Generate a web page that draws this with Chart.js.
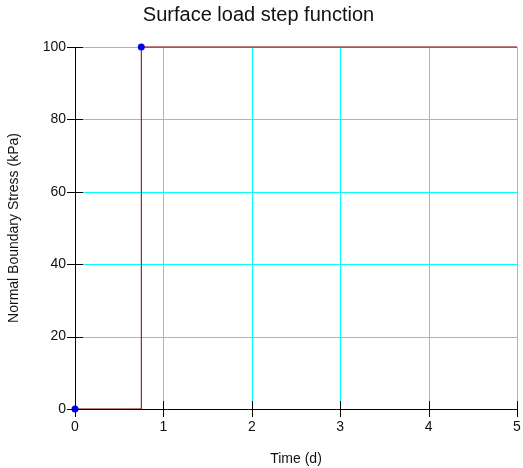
<!DOCTYPE html>
<html>
<head>
<meta charset="utf-8">
<script src="https://cdn.jsdelivr.net/npm/chart.js@4"></script>
<style>
    html, body { margin: 0; padding: 0; background: #fff; }
    #wrap { width: 523px; height: 468px; }
</style>
</head>
<body>
<div id="wrap"><canvas id="loadChart" width="523" height="468"></canvas></div>
<script>
const timeDays = [0, 0.75, 5];
const stressKPa = [0, 100, 100];
const markerSizes = [3.5, 3.5, 0];
const xTicks = [0, 1, 2, 3, 4, 5];
const yTicks = [0, 20, 40, 60, 80, 100];

const fontFamily = "'Liberation Sans', Arial, sans-serif";

// cyan grid under the data
const gridPlugin = {
    id: 'cyanGrid',
    beforeDatasetsDraw(chart) {
        const ctx = chart.ctx;
        const xs = chart.scales.x;
        const ys = chart.scales.y;
        const area = chart.chartArea;
        ctx.save();
        ctx.strokeStyle = 'rgb(0, 255, 255)';
        ctx.lineWidth = 1;
        ctx.beginPath();
        xTicks.slice(1).forEach(v => {
            const px = Math.round(xs.getPixelForValue(v)) + 0.5;
            ctx.moveTo(px, area.top);
            ctx.lineTo(px, area.bottom);
        });
        yTicks.slice(1).forEach(v => {
            const py = Math.round(ys.getPixelForValue(v)) + 0.5;
            ctx.moveTo(area.left, py);
            ctx.lineTo(area.right, py);
        });
        ctx.stroke();
        ctx.restore();
    },
    // axis lines and tick marks crossing the axis, on top of the data
    afterDatasetsDraw(chart) {
        const ctx = chart.ctx;
        const xs = chart.scales.x;
        const ys = chart.scales.y;
        const area = chart.chartArea;
        ctx.save();
        ctx.strokeStyle = '#000';
        ctx.lineWidth = 1;
        ctx.beginPath();
        ctx.moveTo(area.left + 0.5, area.top);
        ctx.lineTo(area.left + 0.5, area.bottom + 0.5);
        ctx.lineTo(area.right, area.bottom + 0.5);
        xTicks.forEach(v => {
            const px = Math.round(xs.getPixelForValue(v)) + 0.5;
            ctx.moveTo(px, area.bottom - 8);
            ctx.lineTo(px, area.bottom + 8);
        });
        yTicks.forEach(v => {
            const py = Math.round(ys.getPixelForValue(v)) + 0.5;
            ctx.moveTo(area.left - 8, py);
            ctx.lineTo(area.left + 8, py);
        });
        ctx.stroke();
        ctx.restore();
    }
};

new Chart(document.getElementById('loadChart'), {
    type: 'line',
    data: {
        datasets: [{
            data: timeDays.map((t, i) => ({ x: t, y: stressKPa[i] })),
            stepped: true,
            borderColor: '#800000',
            borderWidth: 1,
            pointRadius: markerSizes,
            pointBackgroundColor: '#0000ff',
            pointBorderColor: '#0000ff',
            pointBorderWidth: 0,
            clip: false,
            fill: false
        }]
    },
    plugins: [gridPlugin],
    options: {
        responsive: false,
        animation: false,
        layout: { padding: { left: 0, right: 6, top: 0, bottom: 0 } },
        plugins: {
            legend: { display: false },
            tooltip: { enabled: false },
            title: {
                display: true,
                text: 'Surface load step function',
                color: '#111',
                font: { family: fontFamily, size: 20, weight: 'normal' },
                padding: { top: 3, bottom: 20 }
            }
        },
        scales: {
            x: {
                type: 'linear',
                min: xTicks[0],
                max: xTicks[xTicks.length - 1],
                afterFit: s => { s.height = 59; },
                grid: { drawOnChartArea: false, drawTicks: true, tickColor: 'rgba(0,0,0,0)', tickLength: 8 },
                border: { display: false },
                ticks: { stepSize: 1, color: '#111', padding: 2, font: { family: fontFamily, size: 14 } },
                title: {
                    display: true,
                    text: 'Time (d)',
                    color: '#111',
                    font: { family: fontFamily, size: 14 },
                    padding: { top: 6, bottom: 0 }
                }
            },
            y: {
                type: 'linear',
                min: yTicks[0],
                max: yTicks[yTicks.length - 1],
                afterFit: s => { s.width = 75; },
                grid: { drawOnChartArea: false, drawTicks: true, tickColor: 'rgba(0,0,0,0)', tickLength: 8 },
                border: { display: false },
                ticks: { stepSize: 20, color: '#111', padding: 1, font: { family: fontFamily, size: 14 } },
                title: {
                    display: true,
                    text: 'Normal Boundary Stress (kPa)',
                    color: '#111',
                    font: { family: fontFamily, size: 14 },
                    padding: { top: 6, bottom: 0 }
                }
            }
        }
    }
});
</script>
</body>
</html>
